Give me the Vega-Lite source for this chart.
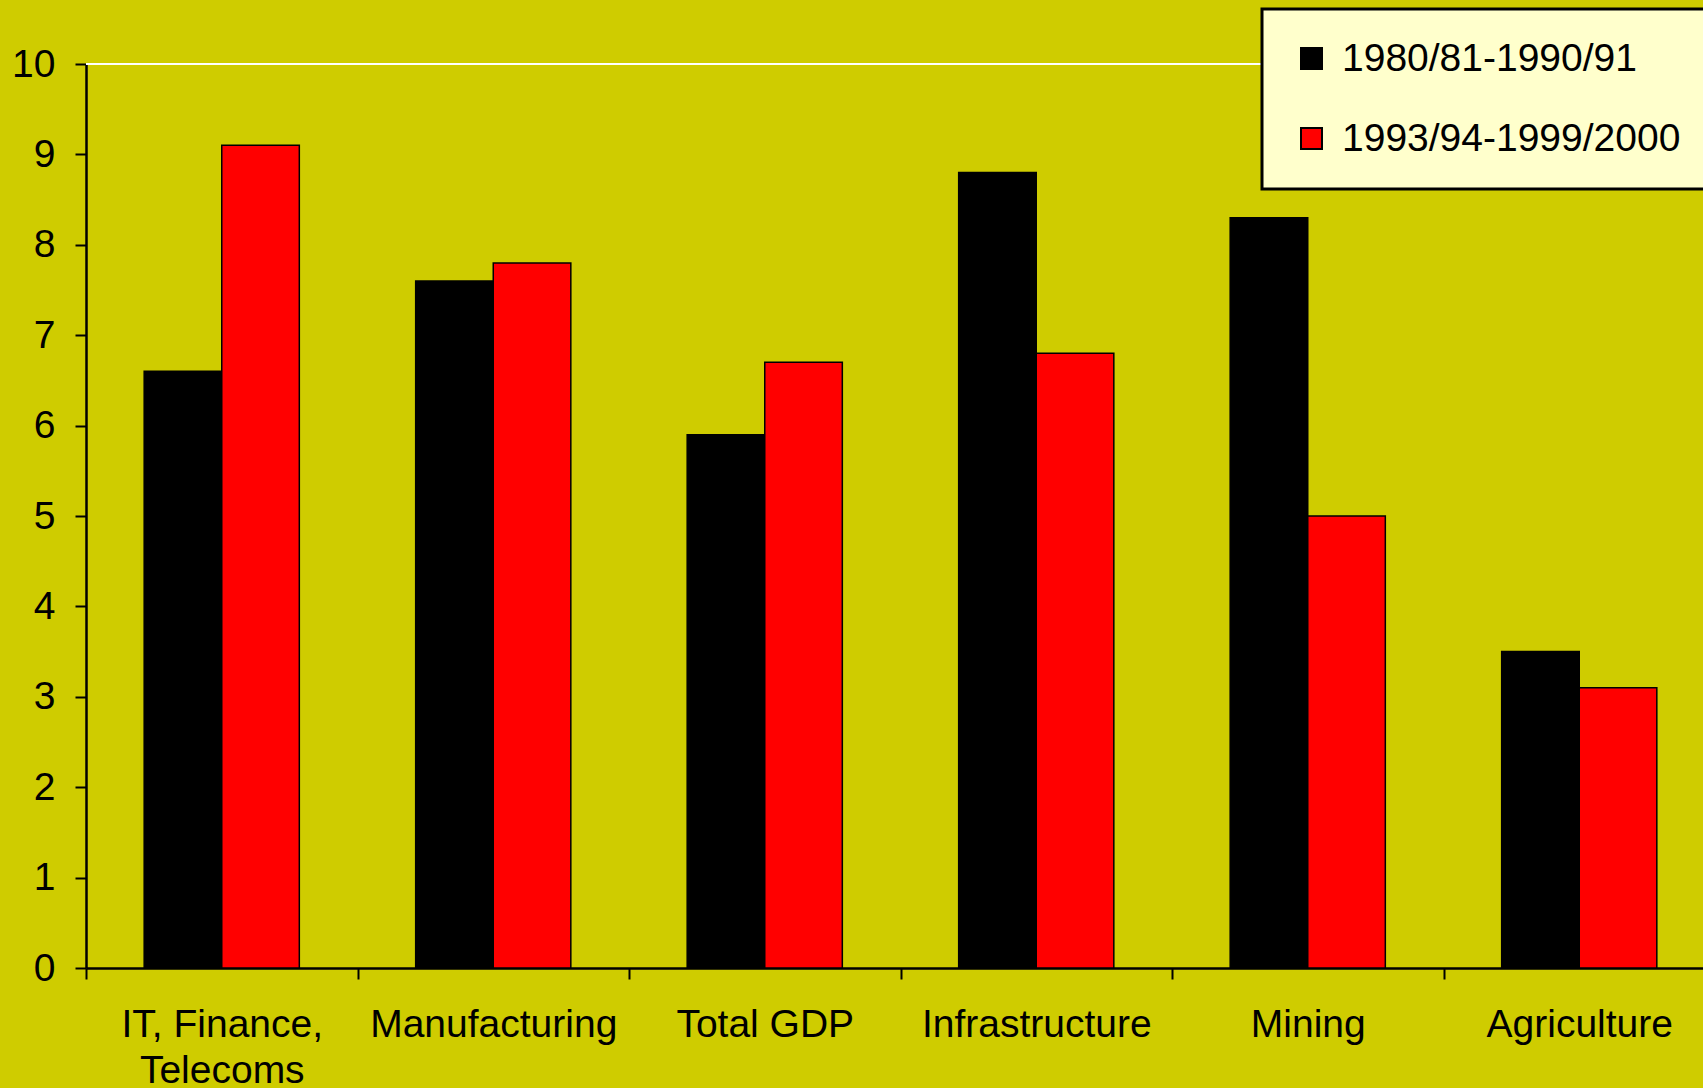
{
  "$schema": "https://vega.github.io/schema/vega-lite/v6.json",
  "width": 1629,
  "height": 904,
  "autosize": {"type": "none"},
  "padding": {"left": 86, "top": 64, "right": 0, "bottom": 120},
  "background": "#CFCC00",
  "config": {
    "view": {"stroke": null},
    "font": "Liberation Sans"
  },
  "data": {
    "values": [
      {"sector": "IT, Finance, Telecoms", "period": "1980/81-1990/91", "growth": 6.6},
      {"sector": "IT, Finance, Telecoms", "period": "1993/94-1999/2000", "growth": 9.1},
      {"sector": "Manufacturing", "period": "1980/81-1990/91", "growth": 7.6},
      {"sector": "Manufacturing", "period": "1993/94-1999/2000", "growth": 7.8},
      {"sector": "Total GDP", "period": "1980/81-1990/91", "growth": 5.9},
      {"sector": "Total GDP", "period": "1993/94-1999/2000", "growth": 6.7},
      {"sector": "Infrastructure", "period": "1980/81-1990/91", "growth": 8.8},
      {"sector": "Infrastructure", "period": "1993/94-1999/2000", "growth": 6.8},
      {"sector": "Mining", "period": "1980/81-1990/91", "growth": 8.3},
      {"sector": "Mining", "period": "1993/94-1999/2000", "growth": 5.0},
      {"sector": "Agriculture", "period": "1980/81-1990/91", "growth": 3.5},
      {"sector": "Agriculture", "period": "1993/94-1999/2000", "growth": 3.1}
    ]
  },
  "layer": [
    {
      "mark": {"type": "rule", "color": "white", "strokeWidth": 2},
      "encoding": {"y": {"datum": 10, "type": "quantitative", "scale": {"domain": [0, 10]}}}
    },
    {
      "mark": {"type": "bar", "stroke": "black", "strokeWidth": 1.5},
      "encoding": {
        "x": {
          "field": "sector",
          "type": "nominal",
          "sort": null,
          "scale": {"paddingInner": 0, "paddingOuter": 0},
          "axis": {
            "title": null,
            "labelAngle": 0,
            "labelFontSize": 39,
            "labelColor": "black",
            "labelPadding": 26,
            "labelLineHeight": 46,
            "labelLimit": 400,
            "labelExpr": "datum.label == 'IT, Finance, Telecoms' ? ['IT, Finance,', 'Telecoms'] : datum.label",
            "tickBand": "extent",
            "tickSize": 11,
            "tickColor": "black",
            "tickWidth": 2,
            "domainColor": "black",
            "domainWidth": 2.5,
            "labelOverlap": false
          }
        },
        "xOffset": {
          "field": "period",
          "type": "nominal",
          "sort": ["1980/81-1990/91", "1993/94-1999/2000"],
          "scale": {"paddingInner": 0, "paddingOuter": 0.75}
        },
        "y": {
          "field": "growth",
          "type": "quantitative",
          "scale": {"domain": [0, 10]},
          "axis": {
            "title": null,
            "values": [0, 1, 2, 3, 4, 5, 6, 7, 8, 9, 10],
            "format": "d",
            "grid": false,
            "labelFontSize": 39,
            "labelColor": "black",
            "labelPadding": 20,
            "tickSize": 11,
            "tickColor": "black",
            "tickWidth": 2,
            "domainColor": "black",
            "domainWidth": 2.5
          }
        },
        "color": {
          "field": "period",
          "type": "nominal",
          "sort": ["1980/81-1990/91", "1993/94-1999/2000"],
          "scale": {"domain": ["1980/81-1990/91", "1993/94-1999/2000"], "range": ["#000000", "#FF0000"]},
          "legend": {
            "title": null,
            "orient": "none",
            "legendX": 1176,
            "legendY": -55,
            "fillColor": "#FFFFCC",
            "strokeColor": "black",
            "padding": 30,
            "symbolType": "square",
            "symbolSize": 441,
            "symbolStrokeColor": "black",
            "symbolStrokeWidth": 2,
            "symbolOpacity": 1,
            "labelFontSize": 39,
            "labelColor": "black",
            "labelOffset": 11,
            "rowPadding": 40,
            "labelLimit": 500,
            "encode": {"legend": {"update": {"strokeWidth": {"value": 3}}}}
          }
        }
      }
    }
  ]
}
